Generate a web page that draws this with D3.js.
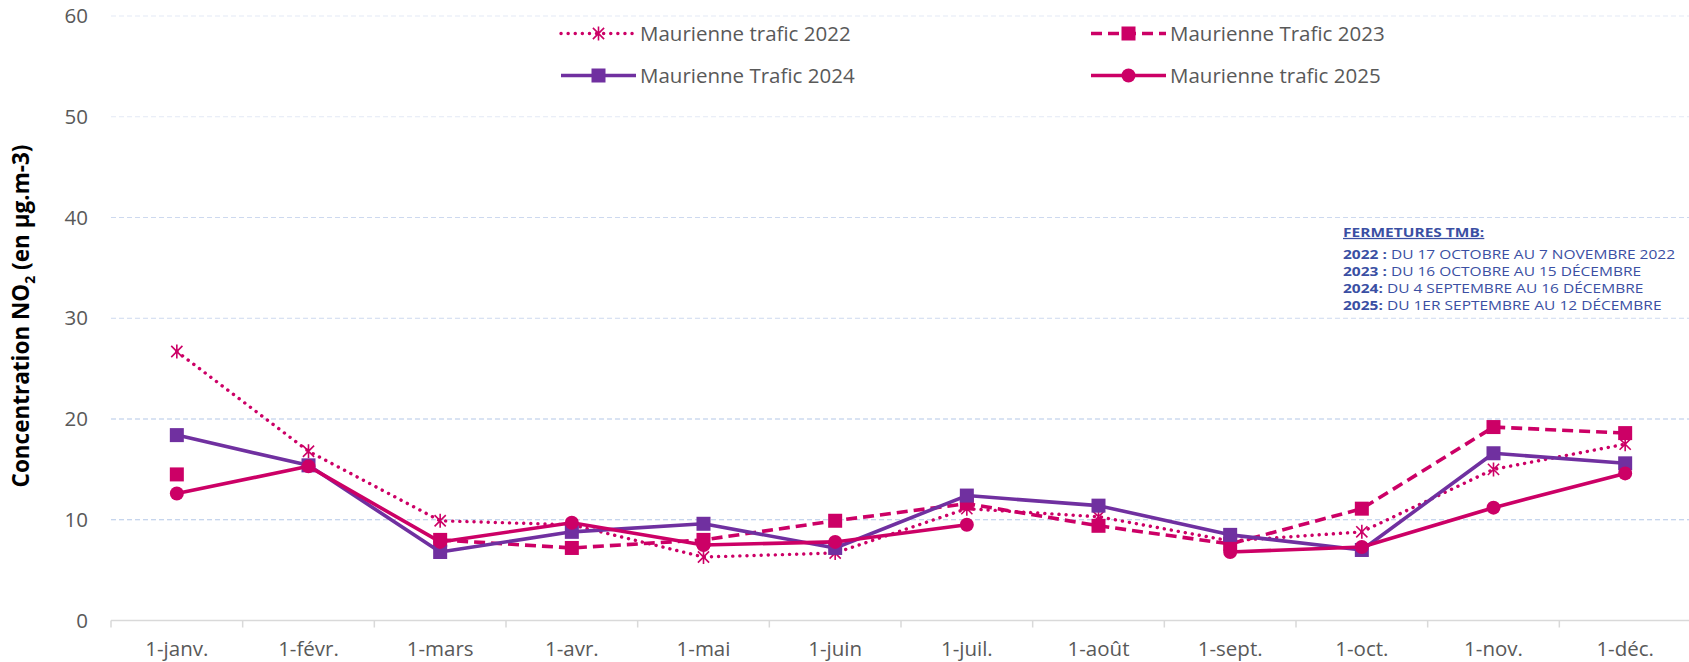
<!DOCTYPE html>
<html>
<head>
<meta charset="utf-8">
<script src="https://cdn.jsdelivr.net/npm/d3@7"></script>
<style>
  html, body { margin: 0; padding: 0; background: #fff; }
  svg { display: block; font-family: "Open Sans", sans-serif; }
</style>
</head>
<body>
<svg id="chart" width="1689" height="662"></svg>
<script>
// values
const months = ['1-janv.', '1-févr.', '1-mars', '1-avr.', '1-mai', '1-juin', '1-juil.', '1-août', '1-sept.', '1-oct.', '1-nov.', '1-déc.'];
const v2022 = [26.7, 16.8, 9.9, 9.5, 6.3, 6.7, 11.1, 10.3, 7.9, 8.8, 15.0, 17.5];
const v2023 = [14.5, null, 8.0, 7.2, 8.0, 9.9, 11.6, 9.4, 7.6, 11.1, 19.2, 18.6];
const v2024 = [18.4, 15.4, 6.8, 8.8, 9.6, 7.2, 12.4, 11.4, 8.5, 7.0, 16.6, 15.6];
const v2025 = [12.6, 15.3, 7.8, 9.7, 7.5, 7.8, 9.5, null, 6.8, 7.3, 11.2, 14.6];
const yTicks = [0, 10, 20, 30, 40, 50, 60];
const seriesNames = ['Maurienne trafic 2022', 'Maurienne Trafic 2023', 'Maurienne Trafic 2024', 'Maurienne trafic 2025'];
const noteTitle = 'FERMETURES TMB:';
const noteYears = ['2022 :', '2023 :', '2024:', '2025:'];
const noteText = [' DU 17 OCTOBRE AU 7 NOVEMBRE 2022', ' DU 16 OCTOBRE AU 15 DÉCEMBRE', ' DU 4 SEPTEMBRE AU 16 DÉCEMBRE', ' DU 1ER SEPTEMBRE AU 12 DÉCEMBRE'];

const MAGENTA = '#CC0066', PURPLE = '#7030A0';

const series = [
  { name: seriesNames[0], values: v2022, color: MAGENTA, dash: '0.1,7', width: 3.4, cap: 'round', marker: 'star' },
  { name: seriesNames[1], values: v2023, color: MAGENTA, dash: '11,6', width: 3.6, cap: 'butt', marker: 'square' },
  { name: seriesNames[2], values: v2024, color: PURPLE, dash: null, width: 3.6, cap: 'butt', marker: 'square' },
  { name: seriesNames[3], values: v2025, color: MAGENTA, dash: null, width: 3.6, cap: 'butt', marker: 'circle' }
];

const svg = d3.select('#chart');
const x = d3.scaleBand().domain(months).range([111, 1691]);
const y = d3.scaleLinear().domain([0, 60]).range([620.5, 16]);

// gridlines (fade towards the top)
const gridColor = v => v >= 50 ? '#E3E9F5' : (v >= 30 ? '#CDD9EF' : '#B4C7E7');
svg.append('g').selectAll('line')
  .data(yTicks.filter(v => v > 0))
  .join('line')
  .attr('x1', 111).attr('x2', 1689)
  .attr('y1', d => y(d)).attr('y2', d => y(d))
  .attr('stroke', d => gridColor(d))
  .attr('stroke-width', 1.2)
  .attr('stroke-dasharray', '5,3');

// y axis labels
const yAxis = svg.append('g').attr('transform', 'translate(111,0)')
  .call(d3.axisLeft(y).tickValues(yTicks).tickSize(0).tickPadding(23));
yAxis.select('.domain').remove();
yAxis.selectAll('text').attr('font-size', 20.5).attr('fill', '#595959').attr('font-family', '"Open Sans", sans-serif');

// x axis with ticks at band boundaries
svg.append('line')
  .attr('x1', 111).attr('x2', 1689)
  .attr('y1', y(0)).attr('y2', y(0))
  .attr('stroke', '#D9D9D9').attr('stroke-width', 1.5);
svg.append('g').selectAll('line')
  .data(months)
  .join('line')
  .attr('x1', d => x(d)).attr('x2', d => x(d))
  .attr('y1', y(0)).attr('y2', y(0) + 7)
  .attr('stroke', '#D9D9D9').attr('stroke-width', 1.5);
svg.append('g').selectAll('text')
  .data(months)
  .join('text')
  .attr('x', d => x(d) + x.bandwidth() / 2)
  .attr('y', 656)
  .attr('text-anchor', 'middle')
  .attr('font-size', 20.5)
  .attr('fill', '#595959')
  .text(d => d);

// y axis title
const yt = svg.append('text')
  .attr('transform', 'translate(29,316) rotate(-90)')
  .attr('text-anchor', 'middle')
  .attr('font-size', 22.5)
  .attr('font-weight', 700)
  .attr('fill', '#000');
yt.append('tspan').text('Concentration NO');
yt.append('tspan').attr('font-size', 14).attr('dy', 6).text('2');
yt.append('tspan').attr('dy', -6).text(' (en µg.m-3)');

// markers
function drawMarker(g, type, color, cx, cy) {
  if (type === 'square') {
    g.append('rect').attr('x', cx - 7).attr('y', cy - 7).attr('width', 14).attr('height', 14).attr('fill', color);
  } else if (type === 'circle') {
    g.append('circle').attr('cx', cx).attr('cy', cy).attr('r', 7).attr('fill', color);
  } else {
    const s = 7;
    g.append('path')
      .attr('d', `M${cx},${cy - s}L${cx},${cy + s}M${cx - s * 0.8},${cy - s * 0.8}L${cx + s * 0.8},${cy + s * 0.8}M${cx - s * 0.8},${cy + s * 0.8}L${cx + s * 0.8},${cy - s * 0.8}`)
      .attr('stroke', color).attr('stroke-width', 1.6).attr('fill', 'none');
  }
}

const line = d3.line()
  .defined(d => d.v != null)
  .x(d => x(d.m) + x.bandwidth() / 2)
  .y(d => y(d.v));

series.forEach(s => {
  const pts = months.map((m, i) => ({ m, v: s.values[i] }));
  const g = svg.append('g');
  g.append('path')
    .datum(pts)
    .attr('d', line)
    .attr('fill', 'none')
    .attr('stroke', s.color)
    .attr('stroke-width', s.width)
    .attr('stroke-linecap', s.cap)
    .attr('stroke-linejoin', 'round')
    .attr('stroke-dasharray', s.dash);
  pts.filter(p => p.v != null).forEach(p => drawMarker(g, s.marker, s.color, x(p.m) + x.bandwidth() / 2, y(p.v)));
});

// legend
const legendPos = [[561, 33.5], [1091, 33.5], [561, 75.5], [1091, 75.5]];
series.forEach((s, i) => {
  const [lx, ly] = legendPos[i];
  const g = svg.append('g');
  g.append('line')
    .attr('x1', lx).attr('x2', lx + 75)
    .attr('y1', ly).attr('y2', ly)
    .attr('stroke', s.color)
    .attr('stroke-width', s.width)
    .attr('stroke-linecap', s.cap)
    .attr('stroke-dasharray', s.dash);
  drawMarker(g, s.marker, s.color, lx + 37.5, ly);
  g.append('text')
    .attr('x', lx + 79).attr('y', ly)
    .attr('dy', '0.35em')
    .attr('font-size', 20.5)
    .attr('fill', '#595959')
    .text(s.name);
});

// closure note (Calibri-like narrow lines: small font stretched sideways)
const note = svg.append('g')
  .attr('transform', 'translate(1343,0) scale(1.24,1)')
  .attr('fill', '#3A4FA3');
note.append('text')
  .attr('x', 0).attr('y', 237)
  .attr('font-size', 12.5).attr('font-weight', 700)
  .attr('text-decoration', 'underline')
  .text(noteTitle);
noteYears.forEach((yr, i) => {
  const t = note.append('text').attr('x', 0).attr('y', 259.5 + i * 17).attr('font-size', 12.5);
  t.append('tspan').attr('font-weight', 700).text(yr);
  t.append('tspan').text(noteText[i]);
});
</script>
</body>
</html>
